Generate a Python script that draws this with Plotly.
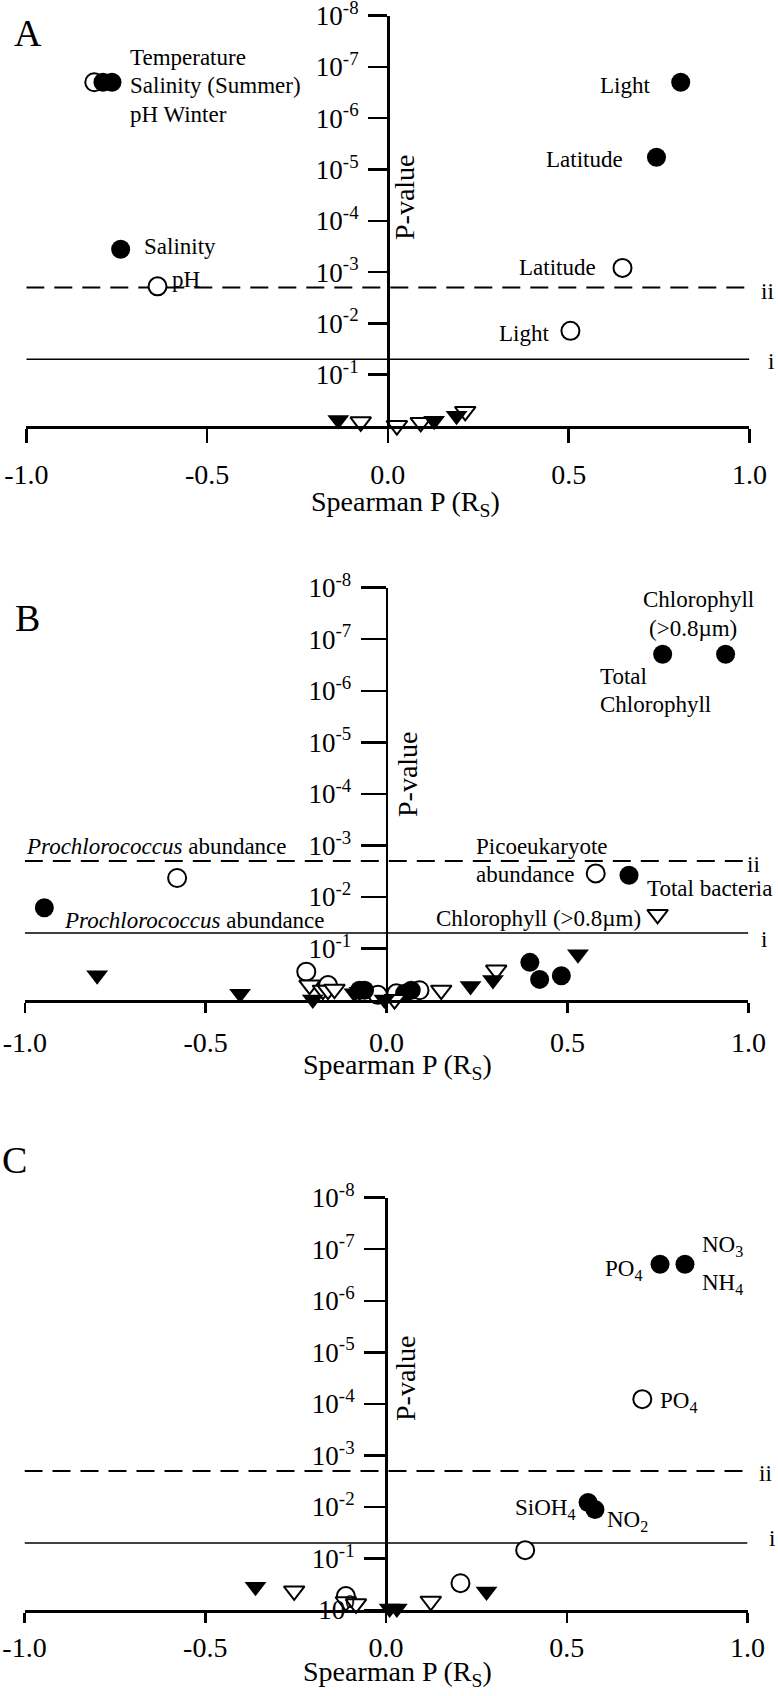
import plotly.graph_objects as go

W, H = 778, 1696
FONT = "Liberation Serif"

# ---------------- data (Spearman R_s, P-value) ----------------
p_i = 0.05      # threshold line i
p_ii = 0.002    # threshold line ii

# Panel A
a_fc_r = [-0.788, -0.763, -0.739, 0.810, 0.743]
a_fc_p = [2.0e-7, 2.0e-7, 3.6e-4, 2.0e-7, 5.8e-6]
a_oc_r = [-0.812, -0.637, 0.649, 0.505]
a_oc_p = [2.0e-7, 1.9e-3, 8.3e-4, 0.014]
a_ft_r = [-0.137, 0.128, 0.190]
a_ft_p = [0.76, 0.79, 0.63]
a_ot_r = [-0.075, 0.025, 0.091, 0.214]
a_ot_p = [0.83, 0.98, 0.85, 0.52]

# Panel B
b_fc_r = [0.763, 0.937, 0.670, -0.946, -0.075, -0.061, 0.050, 0.068, 0.396, 0.423, 0.483]
b_fc_p = [1.95e-7, 1.95e-7, 3.8e-3, 0.0162, 0.646, 0.646, 0.741, 0.646, 0.186, 0.398, 0.339]
b_oc_r = [-0.579, 0.578, -0.222, -0.162, -0.024, 0.027, 0.091]
b_oc_p = [4.3e-3, 3.5e-3, 0.282, 0.513, 0.794, 0.741, 0.646]
b_ft_r = [-0.800, -0.405, -0.204, -0.089, -0.075, -0.006, 0.232, 0.294, 0.529]
b_ft_p = [0.331, 0.759, 0.98, 0.741, 0.692, 0.98, 0.537, 0.407, 0.129]
b_ot_r = [0.749, -0.213, -0.176, -0.162, -0.144, 0.022, 0.151, 0.303]
b_ot_p = [0.0219, 0.513, 0.646, 0.646, 0.617, 0.98, 0.646, 0.263]

# Panel C
c_fc_r = [0.758, 0.827, 0.559, 0.578]
c_fc_p = [1.95e-7, 1.95e-7, 8.2e-3, 0.0112]
c_oc_r = [0.709, 0.385, 0.206, -0.111]
c_oc_p = [8.1e-5, 0.069, 0.302, 0.537]
c_ft_r = [0.278, 0.010, 0.030, -0.361]
c_ft_p = [0.437, 0.933, 0.933, 0.355]
c_ot_r = [0.124, -0.111, -0.083, -0.254]
c_ot_p = [0.676, 0.692, 0.759, 0.427]

x_tickvals = [-1.0, -0.5, 0.0, 0.5, 1.0]
x_ticktext = ["-1.0", "-0.5", "0.0", "0.5", "1.0"]
y_tickvals = [1e-8, 1e-7, 1e-6, 1e-5, 1e-4, 1e-3, 1e-2, 1e-1]
y_ticktext = ["10<sup>-8</sup>", "10<sup>-7</sup>", "10<sup>-6</sup>", "10<sup>-5</sup>",
              "10<sup>-4</sup>", "10<sup>-3</sup>", "10<sup>-2</sup>", "10<sup>-1</sup>"]
y_tickvals_c = y_tickvals + [1.0]
y_ticktext_c = y_ticktext + ["10<sup>0</sup>"]

# ---------------- helpers (window pixels -> paper fractions) ----------------
def fx(x):
    return x / W

def fy(y):
    return 1 - y / H

# ---------------- figure ----------------
fig = go.Figure()

def add_panel(xa, ya, fc, oc, ft, ot):
    for p, dash, w in [(p_ii, "18px,10px", 2), (p_i, "solid", 1.5)]:
        fig.add_trace(go.Scatter(x=[-1, 1], y=[p, p], mode="lines",
                                 line=dict(color="black", width=w, dash=dash),
                                 xaxis=xa, yaxis=ya, hoverinfo="skip"))
    fig.add_trace(go.Scatter(x=oc[0], y=oc[1], mode="markers", cliponaxis=False,
                             marker=dict(symbol="circle", size=18, color="white",
                                         line=dict(color="black", width=2)),
                             xaxis=xa, yaxis=ya))
    fig.add_trace(go.Scatter(x=fc[0], y=fc[1], mode="markers", cliponaxis=False,
                             marker=dict(symbol="circle", size=19, color="black",
                                         line=dict(color="black", width=0)),
                             xaxis=xa, yaxis=ya))
    fig.add_trace(go.Scatter(x=ot[0], y=ot[1], mode="markers", cliponaxis=False,
                             marker=dict(symbol="triangle-down", size=18, color="white",
                                         line=dict(color="black", width=2)),
                             xaxis=xa, yaxis=ya))
    fig.add_trace(go.Scatter(x=ft[0], y=ft[1], mode="markers", cliponaxis=False,
                             marker=dict(symbol="triangle-down", size=19, color="black",
                                         line=dict(color="black", width=0)),
                             xaxis=xa, yaxis=ya))

add_panel("x", "y", (a_fc_r, a_fc_p), (a_oc_r, a_oc_p), (a_ft_r, a_ft_p), (a_ot_r, a_ot_p))
add_panel("x2", "y2", (b_fc_r, b_fc_p), (b_oc_r, b_oc_p), (b_ft_r, b_ft_p), (b_ot_r, b_ot_p))
add_panel("x3", "y3", (c_fc_r, c_fc_p), (c_oc_r, c_oc_p), (c_ft_r, c_ft_p), (c_ot_r, c_ot_p))

tickfont = dict(family=FONT, size=28, color="black")

def xaxis_cfg(x0, x1, anchor, ticklen, standoff):
    return dict(domain=[fx(x0), fx(x1)], range=[-1, 1], anchor=anchor, automargin=False,
                showline=True, linecolor="black", linewidth=2.5,
                ticks="outside", ticklen=ticklen, tickwidth=2.5, tickcolor="black",
                tickvals=x_tickvals, ticktext=x_ticktext, tickfont=tickfont,
                ticklabeloverflow="allow",
                showgrid=False, zeroline=False, ticklabelstandoff=standoff)

def yaxis_cfg(ytop, ybot, xpos, ticklen, tv, tt):
    return dict(type="log", range=[0, -8], domain=[fy(ybot), fy(ytop)],
                anchor="free", position=fx(xpos), automargin=False,
                showline=True, linecolor="black", linewidth=2.5,
                ticks="outside", ticklen=ticklen, tickwidth=2.5, tickcolor="black",
                tickvals=tv, ticktext=tt, tickfont=dict(family=FONT, size=27, color="black"),
                ticklabeloverflow="allow",
                showgrid=False, zeroline=False, ticklabelstandoff=4)

fig.update_layout(
    width=W, height=H, margin=dict(l=0, r=0, t=0, b=0, pad=0, autoexpand=False),
    autosize=False,
    paper_bgcolor="white", plot_bgcolor="white", showlegend=False,
    xaxis=xaxis_cfg(26.3, 749.4, "y", 14, 8),
    yaxis=yaxis_cfg(15.5, 426, 388, 19, y_tickvals, y_ticktext),
    xaxis2=xaxis_cfg(24.8, 748.4, "y2", 10, 6),
    yaxis2=yaxis_cfg(587.7, 1000, 386.7, 25, y_tickvals, y_ticktext),
    xaxis3=xaxis_cfg(24.5, 747.5, "y3", 10, 1),
    yaxis3=yaxis_cfg(1197.7, 1610, 386, 21, y_tickvals_c, y_ticktext_c),
)

def txt(x, y, s, xanchor="left", size=23, angle=0):
    return dict(x=fx(x), y=fy(y), xref="paper", yref="paper", text=s,
                showarrow=False, xanchor=xanchor, yanchor="middle", textangle=angle,
                font=dict(family=FONT, size=size, color="black"))

xt = "Spearman P (R<sub>S</sub>)"
anns = [
    # panel A
    txt(28, 33, "A", "center", 38),
    txt(128, 57, "Temperature"),
    txt(128, 86, "Salinity (Summer)"),
    txt(128, 114, "pH Winter"),
    txt(142, 247, "Salinity"),
    txt(170, 279, "pH"),
    txt(652, 86, "Light", "right"),
    txt(625, 159, "Latitude", "right"),
    txt(598, 268, "Latitude", "right"),
    txt(551, 333, "Light", "right"),
    txt(759, 291, "ii"),
    txt(766, 361, "i"),
    txt(405, 197, "P-value", "center", 28, -90),
    txt(405, 503, xt, "center", 28),
    # panel B
    txt(27, 618, "B", "center", 38),
    txt(24, 846, "<i>Prochlorococcus</i> abundance"),
    txt(62, 920, "<i>Prochlorococcus</i> abundance"),
    txt(474, 846, "Picoeukaryote"),
    txt(474, 874, "abundance"),
    txt(645, 888, "Total bacteria"),
    txt(434, 918, "Chlorophyll (>0.8µm)"),
    txt(698, 599, "Chlorophyll", "center"),
    txt(693, 629, "(>0.8µm)", "center"),
    txt(598, 676, "Total"),
    txt(598, 704, "Chlorophyll"),
    txt(745, 864, "ii"),
    txt(759, 939, "i"),
    txt(407, 774, "P-value", "center", 28, -90),
    txt(398, 1066, xt, "center", 28),
    # panel C
    txt(14, 1160, "C", "center", 38),
    txt(603, 1270, "PO<sub>4</sub>"),
    txt(700, 1246, "NO<sub>3</sub>"),
    txt(700, 1284, "NH<sub>4</sub>"),
    txt(658, 1402, "PO<sub>4</sub>"),
    txt(513, 1509, "SiOH<sub>4</sub>"),
    txt(605, 1521, "NO<sub>2</sub>"),
    txt(757, 1473, "ii"),
    txt(767, 1538, "i"),
    txt(405, 1378, "P-value", "center", 28, -90),
    txt(397, 1673, xt, "center", 28),
]
fig.update_layout(annotations=anns)

# remove the default page margin so the figure fills the window exactly
fig.write_html("out.html",
               config={"displayModeBar": False, "staticPlot": True},
               post_script="document.body.style.margin='0';document.body.style.overflow='hidden';")
